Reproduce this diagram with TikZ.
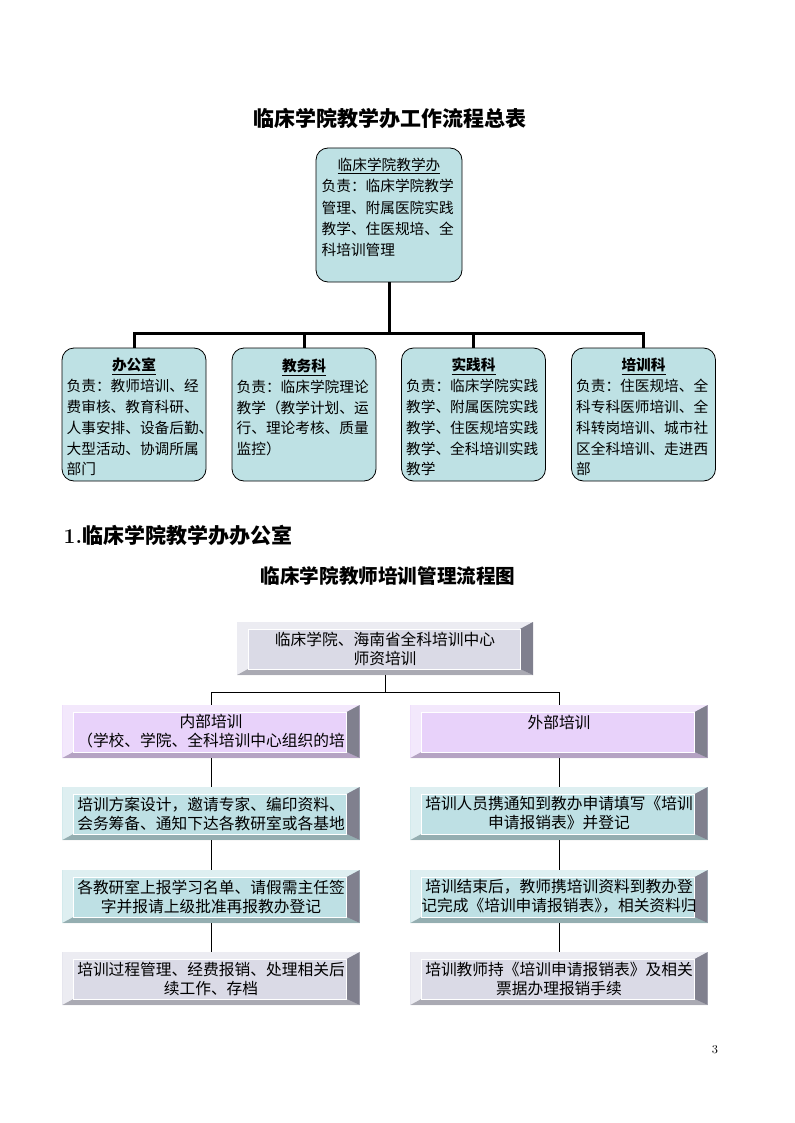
\documentclass[tikz,border=0pt]{standalone}
\usepackage{fontspec}
\newfontfamily\cjk{Noto Sans CJK SC}
\usetikzlibrary{calc}
\definecolor{orgcyan}{RGB}{190,225,228}
\definecolor{facecyan}{RGB}{190,224,228}
\definecolor{facepurple}{RGB}{232,210,250}
\definecolor{facegray}{RGB}{218,218,230}
\definecolor{sidegray}{RGB}{128,128,142}
\tikzstyle{heading}=[font=\cjk\bfseries\fontsize{15.75pt}{18pt}\selectfont]
\tikzstyle{orgbox}=[draw, fill=orgcyan, rounded corners=9pt, line width=.6pt, inner xsep=3.5pt, text width=101pt, minimum width=108pt, minimum height=99.75pt, align=left, font=\cjk\fontsize{11pt}{15.6pt}\selectfont]
\tikzstyle{orgline}=[line width=2.25pt]
\tikzstyle{flowline}=[line width=.75pt]
\tikzstyle{flowbox}=[inner sep=0pt, minimum width=223pt, minimum height=39.75pt, text width=207pt, align=center, font=\cjk\fontsize{11.8pt}{14.25pt}\selectfont,
  path picture={
    \coordinate (bvnw) at (path picture bounding box.north west);
    \coordinate (bvse) at (path picture bounding box.south east);
    \coordinate (bvfnw) at ([shift={(8.25pt,-5.25pt)}]bvnw);
    \coordinate (bvfse) at ([shift={(-9.75pt,4.5pt)}]bvse);
    \fill[white, opacity=.5] (bvnw) -- (bvnw -| bvse) -- (bvfnw -| bvfse) -- (bvfnw) -- (bvfnw |- bvfse) -- (bvnw |- bvse) -- cycle;
    \fill[black, opacity=.22] (bvnw |- bvse) -- (bvse) -- (bvfse) -- (bvfnw |- bvfse) -- cycle;
    \fill[sidegray] (bvnw -| bvse) -- (bvse) -- (bvfse) -- (bvfnw -| bvfse) -- cycle;
    \draw[white, line width=.6pt] (bvfnw) rectangle (bvfse);
  }]
\tikzstyle{purplebox}=[flowbox, fill=facepurple]
\tikzstyle{cyanbox}=[flowbox, fill=facecyan]
\tikzstyle{graybox}=[flowbox, fill=facegray]

\begin{document}
\begin{tikzpicture}[x=0.75pt, y=-0.75pt]
  \useasboundingbox (0,0) rectangle (794,1123);
  % overall chart
  \node[heading] (title) at (390,118) {临床学院教学办工作流程总表};
  \node[orgbox, minimum width=109.5pt, minimum height=100.5pt, inner xsep=4pt, font=\cjk\fontsize{11pt}{16pt}\selectfont] (office) at (389,215)
    {\makebox[\hsize]{\underline{临床学院教学办}}\\负责：临床学院教学\\管理、附属医院实践\\教学、住医规培、全\\科培训管理\rule[-12pt]{0pt}{0pt}};
  \node[orgbox] (admin) at (134,414.5)
    {\makebox[\hsize]{\rule{0pt}{13.5pt}\underline{\bfseries 办公室}}\\负责：教师培训、经\\费审核、教育科研、\\人事安排、设备后勤\makebox[.3em][l]{、}\\大型活动、协调所属\\部门};
  \node[orgbox] (teach) at (304,414.5)
    {\makebox[\hsize]{\rule{0pt}{13.5pt}\underline{\bfseries 教务科}}\\负责：临床学院理论\\教学（教学计划、运\\行、理论考核、质量\\监控）\\\mbox{}};
  \node[orgbox] (practice) at (473.5,414.5)
    {\makebox[\hsize]{\rule{0pt}{13.5pt}\underline{\bfseries 实践科}}\\负责：临床学院实践\\教学、附属医院实践\\教学、住医规培实践\\教学、全科培训实践\\教学};
  \node[orgbox] (train) at (643.5,414.5)
    {\makebox[\hsize]{\rule{0pt}{13.5pt}\underline{\bfseries 培训科}}\\负责：住医规培、全\\科专科医师培训、全\\科转岗培训、城市社\\区全科培训、走进西\\部};
  \coordinate (bar) at (389,333);
  \draw[orgline] (office) -- (bar);
  \foreach \b in {admin,teach,practice,train}
    \draw[orgline] (\b.north) |- (bar);

  % teacher training flow
  \node[heading, anchor=west] (section) at (59,535) {{\rmfamily 1.}临床学院教学办办公室};
  \node[heading, font=\cjk\bfseries\fontsize{14.7pt}{18pt}\selectfont] (subtitle) at (388,576) {临床学院教师培训管理流程图};
  \node[graybox, minimum width=222pt] (source) at (385,648.5) {临床学院、海南省全科培训中心\\师资培训};
  \node[purplebox] (inner1) at (211,731.5) {内部培训\\（学校、学院、全科培训中心组织的培};
  \node[cyanbox] (inner2) at (211,813.5) {培训方案设计，邀请专家、编印资料、\\会务筹备、通知下达各教研室或各基地};
  \node[cyanbox] (inner3) at (211,896.5) {各教研室上报学习名单、请假需主任签\\字并报请上级批准再报教办登记};
  \node[graybox] (inner4) at (211,978.5) {培训过程管理、经费报销、处理相关后\\续工作、存档};
  \node[purplebox] (outer1) at (559,731.5) {外部培训\\\mbox{}};
  \node[cyanbox] (outer2) at (559,813.5) {培训人员携通知到教办申请填写《培训\\申请报销表》并登记};
  \node[cyanbox] (outer3) at (559,896.5) {培训结束后，教师携培训资料到教办登\\记完成《培训申请报销表\makebox[.5em][l]{》}，相关资料归};
  \node[graybox] (outer4) at (559,978.5) {培训教师持《培训申请报销表》及相关\\票据办理报销手续};
  \coordinate (fork) at (385,692);
  \draw[flowline] (source) -- (fork);
  \draw[flowline] (inner1.north) |- (fork);
  \draw[flowline] (outer1.north) |- (fork);
  \draw[flowline] (inner1) -- (inner2);
  \draw[flowline] (inner2) -- (inner3);
  \draw[flowline] (inner3) -- (inner4);
  \draw[flowline] (outer1) -- (outer2);
  \draw[flowline] (outer2) -- (outer3);
  \draw[flowline] (outer3) -- (outer4);

  \node[font=\fontsize{9pt}{10pt}\selectfont] (page) at (715,1050) {3};
\end{tikzpicture}
\end{document}
